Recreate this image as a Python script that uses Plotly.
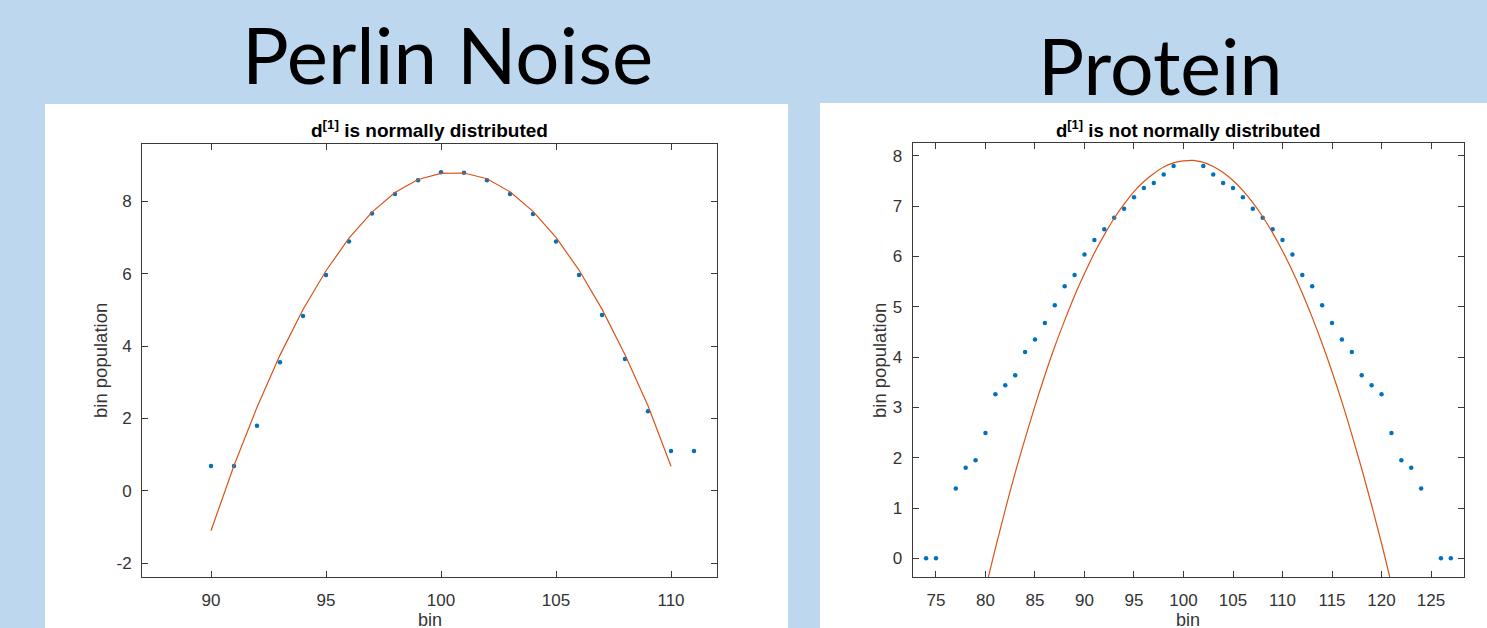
import plotly.graph_objects as go

W, H = 1487, 628

# ---------------- data ----------------
# Left panel: Perlin noise
perlin_bins = list(range(90, 112))
perlin_pop = [0.69, 0.69, 1.80, 3.55, 4.83, 5.96, 6.89, 7.66, 8.20, 8.58, 8.80,
              8.79, 8.58, 8.20, 7.65, 6.89, 5.96, 4.86, 3.64, 2.20, 1.10, 1.10]
perlin_fit_bins = list(range(90, 111))
perlin_fit = [-1.10, 0.70, 2.31, 3.75, 5.01, 6.08, 6.98, 7.70, 8.24, 8.60, 8.77,
              8.78, 8.62, 8.26, 7.72, 7.00, 6.10, 5.02, 3.76, 2.35, 0.68]

# Right panel: Protein
protein_bins = [74, 75, 77, 78, 79, 80, 81, 82, 83, 84, 85, 86, 87, 88, 89, 90, 91, 92,
                93, 94, 95, 96, 97, 98, 99, 102, 103, 104, 105, 106, 107, 108, 109,
                110, 111, 112, 113, 114, 115, 116, 117, 118, 119, 120, 121, 122, 123,
                124, 126, 127]
protein_pop = [0.00, 0.00, 1.39, 1.80, 1.95, 2.49, 3.26, 3.44, 3.64, 4.10, 4.35, 4.68,
               5.03, 5.41, 5.63, 6.04, 6.33, 6.54, 6.77, 6.95, 7.18, 7.36, 7.46, 7.63,
               7.80, 7.80, 7.63, 7.46, 7.36, 7.18, 6.95, 6.77, 6.54, 6.33, 6.04, 5.63,
               5.41, 5.03, 4.68, 4.35, 4.10, 3.64, 3.44, 3.26, 2.49, 1.95, 1.80, 1.39,
               0.00, 0.00]
protein_fit_bins = list(range(80, 122))
protein_fit = [-0.61, 0.20, 0.97, 1.70, 2.38, 3.03, 3.64, 4.21, 4.73, 5.22, 5.66,
               6.07, 6.43, 6.76, 7.04, 7.29, 7.49, 7.65, 7.78, 7.86, 7.90, 7.91,
               7.87, 7.79, 7.67, 7.51, 7.31, 7.07, 6.79, 6.47, 6.11, 5.71, 5.27,
               4.79, 4.27, 3.71, 3.11, 2.46, 1.78, 1.06, 0.30, -0.51]

left_xticks = [90, 95, 100, 105, 110]
left_yticks = [-2, 0, 2, 4, 6, 8]
left_yticktext = ["-2", "0", "2", "4", "6", "8"]
right_xticks = [75, 80, 85, 90, 95, 100, 105, 110, 115, 120, 125]
right_yticks = [0, 1, 2, 3, 4, 5, 6, 7, 8]

panel_titles = ["Perlin Noise", "Protein"]
plot_titles = ["d<sup>[1]</sup> is normally distributed",
               "d<sup>[1]</sup> is not normally distributed"]
x_label = "bin"
y_label = "bin population"

# ---------------- styling ----------------
BG = "#BDD7EE"
DOT = "#0072BD"
LINE = "#D95319"
AX = "#3a3a3a"
TXT = "#333333"
FONT = "Liberation Sans, Arial, sans-serif"


def px(x):
    return x / W


def py(y):
    return 1 - y / H


fig = go.Figure()

fig.add_trace(go.Scatter(x=perlin_bins, y=perlin_pop, mode="markers",
                         marker=dict(color=DOT, size=4.5), xaxis="x", yaxis="y",
                         showlegend=False, cliponaxis=True))
fig.add_trace(go.Scatter(x=perlin_fit_bins, y=perlin_fit, mode="lines",
                         line=dict(color=LINE, width=1.2), xaxis="x", yaxis="y",
                         showlegend=False))
fig.add_trace(go.Scatter(x=protein_bins, y=protein_pop, mode="markers",
                         marker=dict(color=DOT, size=4.5), xaxis="x2", yaxis="y2",
                         showlegend=False, cliponaxis=True))
fig.add_trace(go.Scatter(x=protein_fit_bins, y=protein_fit, mode="lines",
                         line=dict(color=LINE, width=1.2, shape="spline"),
                         xaxis="x2", yaxis="y2", showlegend=False))

axis_common = dict(showline=True, linecolor=AX, linewidth=1, mirror="allticks",
                   ticks="inside", ticklen=6, tickcolor=AX, tickwidth=1,
                   showgrid=False, zeroline=False,
                   tickfont=dict(family=FONT, size=17, color=TXT))

fig.update_layout(
    width=W, height=H,
    margin=dict(l=0, r=0, t=0, b=0),
    paper_bgcolor=BG,
    plot_bgcolor="white",
    xaxis=dict(domain=[px(142), px(717)], range=[87, 112], anchor="y",
               tickvals=left_xticks, ticklabelstandoff=7, **axis_common),
    yaxis=dict(domain=[py(577.4), py(144.4)], range=[-2.39, 9.57], anchor="x",
               tickvals=left_yticks, ticktext=left_yticktext,
               ticklabelstandoff=6, **axis_common),
    xaxis2=dict(domain=[px(912.7), px(1464)], range=[72.65, 128.33], anchor="y2",
                tickvals=right_xticks, ticklabelstandoff=7, **axis_common),
    yaxis2=dict(domain=[py(577.3), py(143.3)], range=[-0.377, 8.25], anchor="x2",
                tickvals=right_yticks, ticklabelstandoff=6, **axis_common),
    shapes=[
        dict(type="rect", xref="paper", yref="paper", x0=px(45), x1=px(788),
             y0=0, y1=py(104), fillcolor="white", line=dict(width=0), layer="below"),
        dict(type="rect", xref="paper", yref="paper", x0=px(820), x1=1,
             y0=0, y1=py(103), fillcolor="white", line=dict(width=0), layer="below"),
    ],
)

ann = []
# big panel titles
ann.append(dict(text=panel_titles[0], x=px(447), y=py(54), xref="paper", yref="paper",
                xanchor="center", yanchor="middle", showarrow=False,
                font=dict(family="Lato, sans-serif", size=78, color="black")))
ann.append(dict(text=panel_titles[1], x=px(1160), y=py(65), xref="paper", yref="paper",
                xanchor="center", yanchor="middle", showarrow=False,
                font=dict(family="Lato, sans-serif", size=77, color="black")))
# subplot titles
ann.append(dict(text="<b>" + plot_titles[0] + "</b>", x=px(429.5), y=py(129),
                xref="paper", yref="paper", xanchor="center", yanchor="middle",
                showarrow=False, font=dict(family=FONT, size=19, color="black")))
ann.append(dict(text="<b>" + plot_titles[1] + "</b>", x=px(1188), y=py(128.6),
                xref="paper", yref="paper", xanchor="center", yanchor="middle",
                showarrow=False, font=dict(family=FONT, size=18.5, color="black")))
# axis labels
for xc in (429.5, 1188):
    ann.append(dict(text=x_label, x=px(xc), y=py(620), xref="paper", yref="paper",
                    xanchor="center", yanchor="middle", showarrow=False,
                    font=dict(family=FONT, size=18, color=TXT)))
for xc in (100, 879):
    ann.append(dict(text=y_label, x=px(xc), y=py(361), xref="paper", yref="paper",
                    xanchor="center", yanchor="middle", showarrow=False, textangle=-90,
                    font=dict(family=FONT, size=18.5, color=TXT)))
fig.update_layout(annotations=ann)

fig.write_html("out.html")
